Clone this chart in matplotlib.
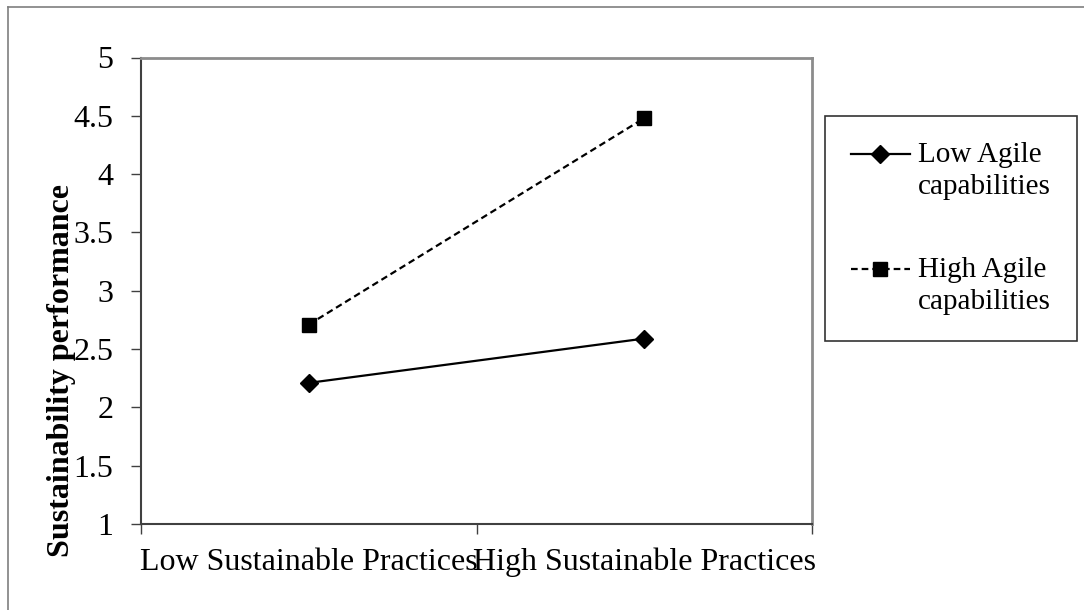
import matplotlib.pyplot as plt
from matplotlib.lines import Line2D

# Data
categories = ["Low Sustainable Practices", "High Sustainable Practices"]
low_agile = [2.21, 2.59]
high_agile = [2.71, 4.48]
series_labels = ["Low Agile\ncapabilities", "High Agile\ncapabilities"]
y_ticks = [1, 1.5, 2, 2.5, 3, 3.5, 4, 4.5, 5]
y_tick_labels = ["1", "1.5", "2", "2.5", "3", "3.5", "4", "4.5", "5"]

plt.rcParams['font.family'] = ['Liberation Serif', 'DejaVu Serif']

W, H = 1084, 610
fig = plt.figure(figsize=(W / 100, H / 100), dpi=100)

# Outer chart frame (only top and left visible, as in the cropped original)
fig.add_artist(Line2D([8 / W, 8 / W], [0, 1 - 7 / H], transform=fig.transFigure,
                      color='#7f7f7f', linewidth=1.2))
fig.add_artist(Line2D([8 / W, 1], [1 - 7 / H, 1 - 7 / H], transform=fig.transFigure,
                      color='#7f7f7f', linewidth=1.2))

left, right, top, bottom = 141, 812, 57.5, 524
ax = fig.add_axes([left / W, 1 - bottom / H, (right - left) / W, (bottom - top) / H])

x_pos = [i + 0.5 for i in range(len(categories))]
ax.plot(x_pos, low_agile, color='black', linewidth=1.6, marker='D', markersize=9,
        label=series_labels[0])
ax.plot(x_pos, high_agile, color='black', linewidth=1.6, linestyle=(0, (3, 1.8)),
        marker='s', markersize=10, label=series_labels[1])

ax.set_xlim(0, len(categories))
ax.set_ylim(1, 5)
ax.set_yticks(y_ticks)
ax.set_yticklabels(y_tick_labels, fontsize=23)

# Category ticks at boundaries, labels centred on the categories
ax.set_xticks(range(len(categories) + 1))
ax.set_xticklabels([])
ax.set_xticks(x_pos, minor=True)
ax.set_xticklabels(categories, minor=True, fontsize=23)
ax.tick_params(axis='x', which='minor', length=0, pad=17)
ax.tick_params(axis='both', which='major', direction='out', length=7, width=1,
               color='#404040')
ax.tick_params(axis='y', pad=13)

for side in ['top', 'right']:
    ax.spines[side].set_color('#8c8c8c')
    ax.spines[side].set_linewidth(2)
for side in ['left', 'bottom']:
    ax.spines[side].set_color('#404040')
    ax.spines[side].set_linewidth(1.5)

ax.set_ylabel("Sustainability performance", fontsize=23, fontweight='bold', va='center')
ax.yaxis.set_label_coords((62 - left) / (right - left), 0.33)

leg = ax.legend(loc='upper left', bbox_to_anchor=(825 / W, 1 - 116 / H),
                bbox_transform=fig.transFigure, fontsize=21, frameon=True,
                fancybox=False, edgecolor='black', handlelength=2.0,
                handleheight=1.1, handletextpad=0.28, labelspacing=1.95,
                borderpad=0.9, borderaxespad=0)
leg.get_frame().set_linewidth(1.2)
for t in leg.get_texts():
    t.set_linespacing(1.29)
# put the legend marks level with the first line of each label
for col in leg._legend_handle_box.get_children():
    for item in col.get_children():
        item.align = 'top'

fig.savefig("out.png", dpi=100)
